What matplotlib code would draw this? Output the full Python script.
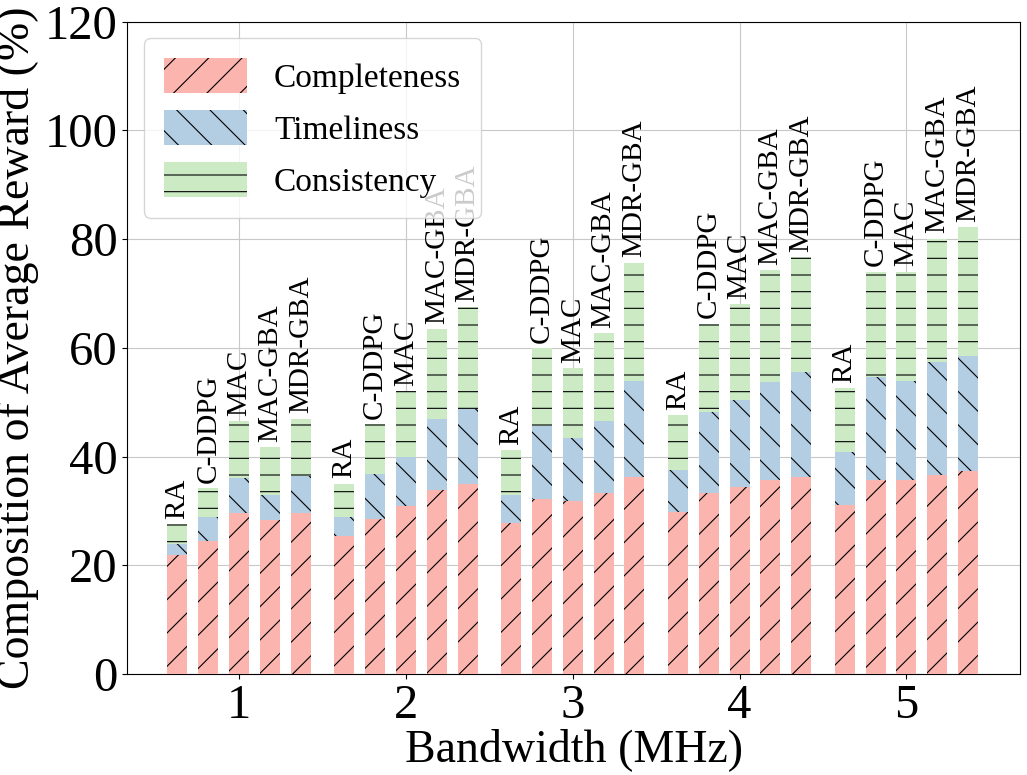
import matplotlib.pyplot as plt
import numpy as np

plt.rcParams['font.family'] = ['Liberation Serif', 'DejaVu Serif']
plt.rcParams['hatch.linewidth'] = 0.8

bandwidth = [1, 2, 3, 4, 5]
methods = ['RA', 'C-DDPG', 'MAC', 'MAC-GBA', 'MDR-GBA']

# cumulative tops per method, per bandwidth
completeness = {
    'RA':      [22.0, 25.5, 27.9, 29.8, 31.1],
    'C-DDPG':  [24.5, 28.5, 32.2, 33.3, 35.7],
    'MAC':     [29.6, 30.9, 31.8, 34.4, 35.7],
    'MAC-GBA': [28.3, 33.8, 33.3, 35.8, 36.6],
    'MDR-GBA': [29.6, 34.9, 36.2, 36.2, 37.3],
}
timeliness_top = {
    'RA':      [24.0, 29.0, 32.9, 37.5, 40.8],
    'C-DDPG':  [29.0, 36.8, 45.6, 48.3, 54.6],
    'MAC':     [36.0, 39.9, 43.4, 50.4, 54.0],
    'MAC-GBA': [33.0, 46.9, 46.5, 53.7, 57.4],
    'MDR-GBA': [36.4, 48.7, 54.0, 55.5, 58.5],
}
total = {
    'RA':      [27.6, 35.0, 41.2, 47.6, 52.6],
    'C-DDPG':  [34.2, 46.0, 60.0, 64.5, 74.0],
    'MAC':     [46.5, 52.0, 56.3, 68.0, 74.0],
    'MAC-GBA': [41.7, 63.4, 62.7, 74.3, 80.1],
    'MDR-GBA': [47.0, 67.5, 75.7, 76.7, 82.2],
}

offsets = [-0.37, -0.185, 0.0, 0.185, 0.37]
width = 0.12
c1, c2, c3 = '#fbb4ae', '#b3cde3', '#ccebc5'

fig, ax = plt.subplots(figsize=(10.27, 7.75), dpi=100)
x = np.array(bandwidth, dtype=float)
for i, m in enumerate(methods):
    pos = x + offsets[i]
    comp = np.array(completeness[m])
    tim = np.array(timeliness_top[m]) - comp
    con = np.array(total[m]) - np.array(timeliness_top[m])
    ax.bar(pos, comp, width, color=c1, hatch='/', edgecolor='black', linewidth=0,
           label='Completeness' if i == 0 else None, zorder=3)
    ax.bar(pos, tim, width, bottom=comp, color=c2, hatch='\\', edgecolor='black', linewidth=0,
           label='Timeliness' if i == 0 else None, zorder=3)
    ax.bar(pos, con, width, bottom=comp + tim, color=c3, hatch='-', edgecolor='black', linewidth=0,
           label='Consistency' if i == 0 else None, zorder=3)
    for p, t in zip(pos, total[m]):
        ax.text(p, t + 1, m, rotation=90, ha='center', va='bottom', fontsize=21)

ax.set_xlim(0.33, 5.68)
ax.set_ylim(0, 120)
ax.set_xticks(bandwidth)
ax.set_yticks(range(0, 121, 20))
ax.tick_params(labelsize=35)
ax.set_xlabel('Bandwidth (MHz)', fontsize=33, labelpad=0)
ax.set_ylabel('Composition of Average Reward (%)', fontsize=33)
ax.grid(True, color='#c8c8c8', zorder=0)
ax.legend(loc='upper left', fontsize=24, handlelength=2.5, handleheight=1.2, borderpad=0.6)
plt.subplots_adjust(left=0.124, right=0.993, top=0.972, bottom=0.13)
plt.savefig('out.png')
